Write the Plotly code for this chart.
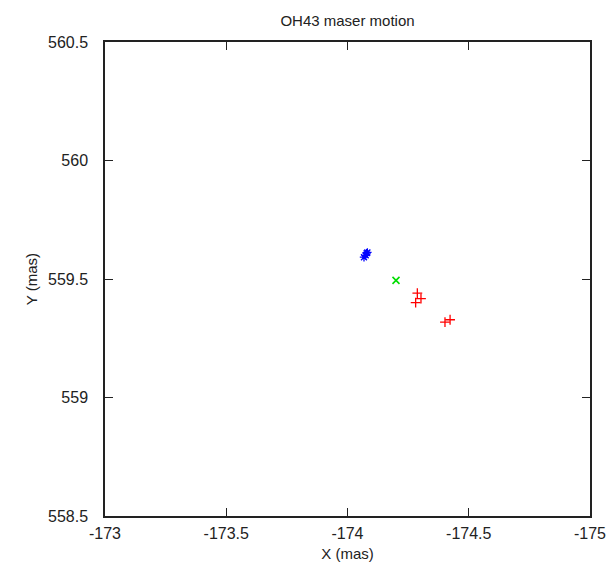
import plotly.graph_objects as go

# Data (mas)
blue_x = [-174.079, -174.068, -174.075, -174.082]
blue_y = [559.609, 559.592, 559.600, 559.612]
green_x = [-174.200]
green_y = [559.494]
red_x = [-174.288, -174.303, -174.281, -174.402, -174.423]
red_y = [559.440, 559.417, 559.400, 559.318, 559.328]

x_ticks = [-173, -173.5, -174, -174.5, -175]
x_tick_text = ["-173", "-173.5", "-174", "-174.5", "-175"]
y_ticks = [558.5, 559, 559.5, 560, 560.5]
y_tick_text = ["558.5", "559", "559.5", "560", "560.5"]

fig = go.Figure()
fig.add_trace(go.Scatter(x=blue_x, y=blue_y, mode="markers",
                         marker=dict(symbol="asterisk-open", size=7, color="#0000ff",
                                     line=dict(width=1.3, color="#0000ff"))))
fig.add_trace(go.Scatter(x=green_x, y=green_y, mode="markers",
                         marker=dict(symbol="x-thin-open", size=7, color="#00dd00",
                                     line=dict(width=1.6, color="#00dd00"))))
fig.add_trace(go.Scatter(x=red_x, y=red_y, mode="markers",
                         marker=dict(symbol="cross-thin-open", size=7, color="#ff0000",
                                     line=dict(width=1.3, color="#ff0000"))))

font = "Liberation Sans, Arial, sans-serif"
axis_common = dict(showgrid=False, zeroline=False, showline=True, linecolor="#222",
                   linewidth=1.5, mirror="allticks", ticks="inside", ticklen=8,
                   tickcolor="#222", tickwidth=1.2, automargin=False,
                   tickfont=dict(family=font, size=16, color="#222"))

fig.update_layout(
    width=608, height=566,
    margin=dict(l=105, r=18, t=42, b=50),
    paper_bgcolor="white", plot_bgcolor="white",
    showlegend=False,
    title=dict(text="OH43 maser motion", x=347.5 / 608, xanchor="center",
               xref="paper",
               y=1 - 21 / 566, yanchor="middle",
               font=dict(family=font, size=15, color="#222")),
    xaxis=dict(range=[-173, -175], tickvals=x_ticks, ticktext=x_tick_text,
               title=dict(text="X (mas)", font=dict(family=font, size=15, color="#222"),
                          standoff=8),
               ticklabelstandoff=2, **axis_common),
    yaxis=dict(range=[558.5, 560.5], tickvals=y_ticks, ticktext=y_tick_text,
               title=dict(text="Y (mas)", font=dict(family=font, size=15, color="#222"),
                          standoff=7),
               ticklabelstandoff=12, **axis_common),
)
fig.update_layout(title=dict(xref="container"))
fig.write_html("out.html")
